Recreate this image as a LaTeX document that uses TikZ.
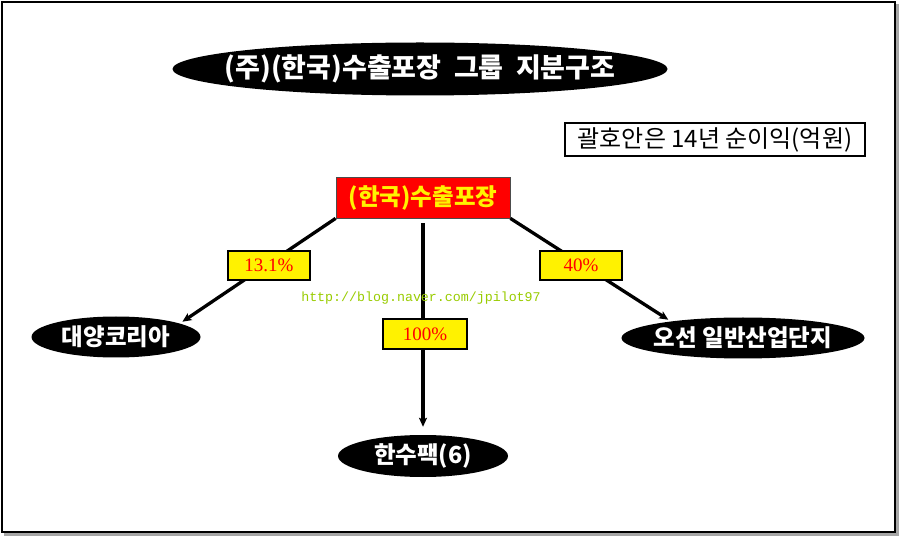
\documentclass[tikz,border=0pt]{standalone}
\usepackage{fontspec}
\newfontfamily\kr{Noto Sans CJK KR}
\newfontfamily\pctfont{Liberation Serif}
\newfontfamily\urlfont{Liberation Mono}
\usetikzlibrary{shapes.geometric,arrows.meta}
\definecolor{urlgreen}{HTML}{99CC00}
\newcommand{\zw}[1]{\makebox[0pt]{#1}}
\tikzset{
  blackoval/.style={ellipse, fill=black, text=white, inner sep=0pt, font=\kr\bfseries\fontsize{23.5}{25}\selectfont},
  pctbox/.style={draw=black, line width=2.8pt, fill=yellow, text=red, inner sep=0pt, minimum width=80pt, minimum height=27pt, font=\pctfont\fontsize{19}{21}\selectfont},
  link/.style={draw=black, line width=3.3pt},
  arr/.style={link, -{Stealth[length=9pt,width=8pt,inset=2pt]}},
}
\begin{document}
\begin{tikzpicture}[x=1pt,y=-1pt]
\useasboundingbox (0,0) rectangle (900,537);
% frame
\fill[gray!70] (4,4) rectangle (899,536);
\draw[fill=white, line width=2pt] (2,2) rectangle (895,532);
% title
\node[blackoval, minimum width=495pt, minimum height=53pt, font=\kr\bfseries\fontsize{27}{29}\selectfont] (title) at (420,69) {\zw{(주)(한국)수출포장\ \ 그룹\ \ 지분구조}};
% note box
\node[draw=black, line width=1.2pt, fill=white, minimum width=300pt, minimum height=33pt, inner sep=0pt, font=\kr\fontsize{24}{26}\selectfont] (note) at (715,139.5) {괄호안은 14년 순이익(억원)};
% top company
\node[draw=black!70, line width=0.8pt, fill=red, text=yellow, minimum width=174pt, minimum height=41pt, inner sep=0pt, font=\kr\bfseries\fontsize{23.5}{25}\selectfont] (top) at (423,197.5) {(한국)수출포장};
% subsidiaries
\node[blackoval, minimum width=169pt, minimum height=41pt] (dy) at (116,337) {\zw{대양코리아}};
\node[blackoval, minimum width=170pt, minimum height=42pt] (hs) at (423,456) {\zw{한수팩(6)}};
\node[blackoval, minimum width=243pt, minimum height=41pt] (od) at (743,338) {\zw{오선 일반산업단지}};
% connectors
\draw[arr, shorten >=3pt] (top.south west) -- (dy.12);
\draw[arr, shorten <=5pt, shorten >=8pt] (top.south) -- (hs.north);
\draw[arr, shorten >=3pt] (top.south east) -- (od.167);
% url
\node[text=urlgreen, font=\urlfont\fontsize{13.3}{15}\selectfont, inner sep=0pt] (url) at (421,298) {http://blog.naver.com/jpilot97};
% percentages
\node[pctbox, minimum width=82pt, minimum height=29pt] (p1) at (269,265.5) {13.1\%};
\node[pctbox, minimum width=84pt, minimum height=30pt] (p2) at (425,334) {100\%};
\node[pctbox, minimum width=82pt, minimum height=29pt] (p3) at (581,265.5) {40\%};
\end{tikzpicture}
\end{document}
